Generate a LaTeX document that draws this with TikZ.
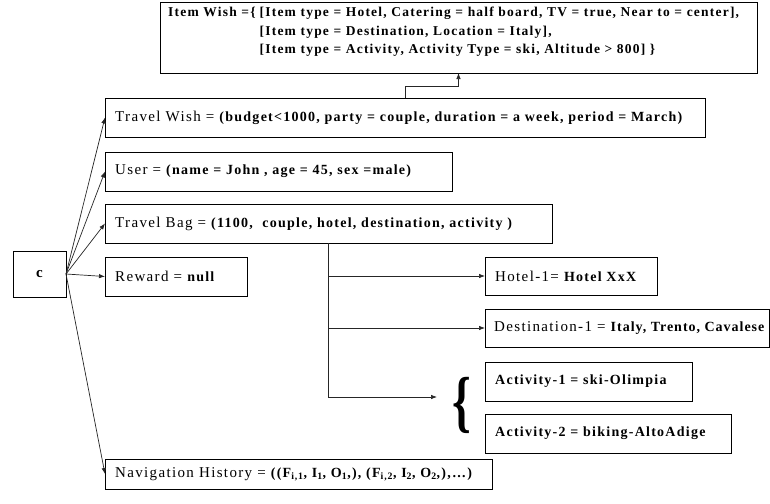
\documentclass[tikz,border=0pt]{standalone}
\usepackage{fontspec}
\setmainfont{Liberation Serif}[LetterSpace=9]
\usetikzlibrary{arrows.meta}
\newcommand{\rg}{\fontsize{15}{18}\selectfont\mdseries}
\newcommand{\bd}{\fontsize{14}{18}\selectfont\bfseries}
\newcommand{\bdi}{\fontsize{13.5}{18.2}\selectfont\bfseries}
\begin{document}
\begin{tikzpicture}[x=1pt,y=-1pt,
  box/.style={draw=black, line width=0.8pt, anchor=north west, inner sep=0pt, outer sep=0pt},
  lbl/.style={anchor=west, inner sep=0pt},
  arr/.style={draw=black!85, line width=0.7pt, -{Latex[length=6pt,width=4.5pt]}},
  ln/.style={draw=black!85, line width=0.8pt}]
\useasboundingbox[fill=white] (0,0) rectangle (770,503);
% boxes
\node[box, minimum width=597pt, minimum height=71pt] (item) at (160,2) {};
\node[box, minimum width=600pt, minimum height=39pt] (tw) at (105,98) {};
\node[box, minimum width=347pt, minimum height=39pt] (user) at (105,152) {};
\node[box, minimum width=447pt, minimum height=39pt] (tb) at (105,204) {};
\node[box, minimum width=53pt, minimum height=46pt] (c) at (13,251) {};
\node[box, minimum width=142pt, minimum height=39pt] (reward) at (105,257) {};
\node[box, minimum width=172pt, minimum height=38pt] (hotel) at (485,257) {};
\node[box, minimum width=284.5pt, minimum height=38pt] (dest) at (485,309) {};
\node[box, minimum width=207pt, minimum height=39pt] (act1) at (485,362) {};
\node[box, minimum width=246pt, minimum height=39pt] (act2) at (485,414) {};
\node[box, minimum width=387pt, minimum height=30pt] (nav) at (105,459) {};
% texts
\node[anchor=north west, inner sep=0pt, align=left] (itemtxt) at (168,4) {\bdi
\begin{tabular}{@{}l@{\kern4pt}l@{}}
Item Wish =\{ & [Item type = Hotel, Catering = half board, TV = true, Near to = center],\\
 & [Item type = Destination, Location = Italy],\\
 & [Item type = Activity, Activity Type = ski, Altitude > 800] \}
\end{tabular}};
\node[lbl] (twtxt) at ([xshift=10pt]tw.west) {\rg Travel Wish = \bd(budget<1000, party = couple, duration = a week, period = March)};
\node[lbl] (usertxt) at ([xshift=10pt]user.west) {\rg User = \bd(name = John , age = 45, sex =male)};
\node[lbl] (tbtxt) at ([xshift=10pt]tb.west) {\rg Travel Bag = \bd(1100, \ couple, hotel, destination, activity )};
\node[inner sep=0pt] (ctxt) at (c.center) {\rg\bfseries c};
\node[lbl] (rewardtxt) at ([xshift=10pt]reward.west) {\rg Reward = \bd null};
\node[lbl] (hoteltxt) at ([xshift=10pt]hotel.west) {\rg Hotel-1= \bd Hotel XxX};
\node[lbl] (desttxt) at ([xshift=9pt]dest.west) {\rg Destination-1 = \bd\addfontfeature{LetterSpace=7}Italy, Trento, Cavalese};
\node[lbl] (act1txt) at ([xshift=10pt]act1.west) {\bd Activity-1 = ski-Olimpia};
\node[lbl] (act2txt) at ([xshift=10pt]act2.west) {\bd Activity-2 = biking-AltoAdige};
\node[lbl] (navtxt) at ([xshift=10pt]nav.west) {\rg Navigation History = \bd((F\textsubscript{i,1}, I\textsubscript{1}, O\textsubscript{1},), (F\textsubscript{i,2}, I\textsubscript{2}, O\textsubscript{2},),\dots)};
% brace
\node[inner sep=0pt] (brace) at (462,405) {\scalebox{0.7}[1]{\fontsize{68}{68}\selectfont\bfseries\{}};
% connectors from c
\foreach \t in {tw,user,tb,reward,nav} \draw[arr] (c.east) -- (\t.west);
% travel wish to item wish
\draw[arr] (tw.north) -- ++(0,-12) -| (item.south);
% travel bag tree
\coordinate (j3) at (328,397);
\coordinate (bend) at (437,397);
\draw[ln] (tb.south -| j3) -- (j3);
\draw[arr] (hotel.west -| j3) -- (hotel.west);
\draw[arr] (dest.west -| j3) -- (dest.west);
\draw[arr] (j3) -- (bend);
\end{tikzpicture}
\end{document}
